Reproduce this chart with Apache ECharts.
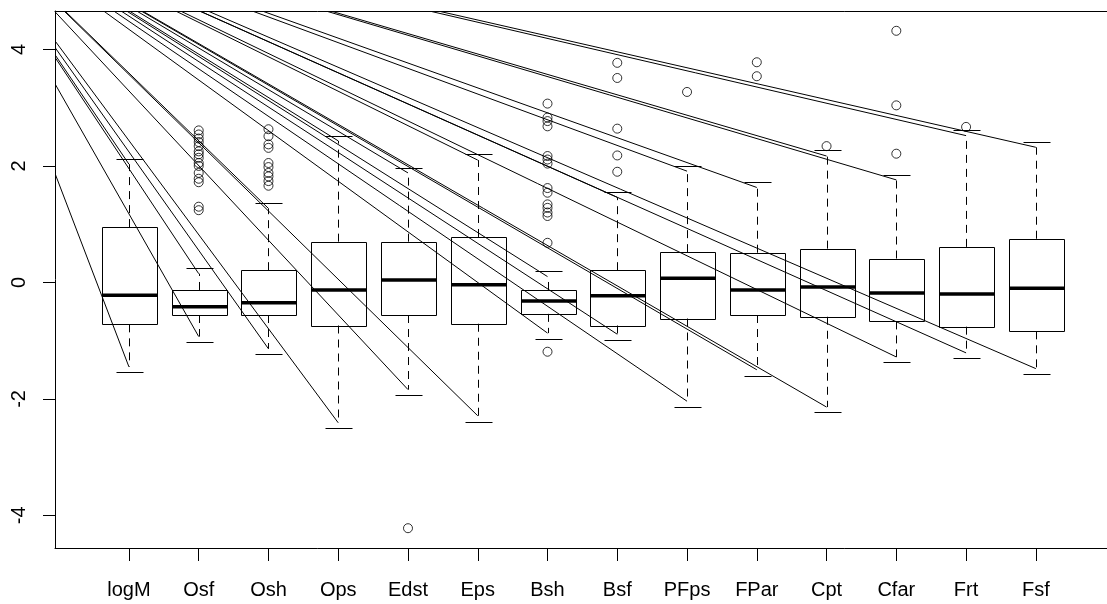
<!DOCTYPE html>
<html>
<head>
<meta charset="utf-8">
<script src="https://cdn.jsdelivr.net/npm/echarts@6/dist/echarts.min.js"></script>
<style>html,body{margin:0;padding:0;background:#fff}#c{width:1107px;height:604px}</style>
</head>
<body>
<div id="c"></div>
<script>
const categories = ['logM','Osf','Osh','Ops','Edst','Eps','Bsh','Bsf','PFps','FPar','Cpt','Cfar','Frt','Fsf'];
const whiskerLow  = [-1.54,-1.03,-1.23,-2.50,-1.94,-2.39,-0.97,-0.99,-2.14,-1.60,-2.23,-1.37,-1.30,-1.58];
const q1          = [-0.72,-0.56,-0.56,-0.74,-0.56,-0.71,-0.54,-0.74,-0.62,-0.56,-0.59,-0.67,-0.76,-0.84];
const median      = [-0.22,-0.42,-0.35,-0.13, 0.04,-0.04,-0.32,-0.23, 0.07,-0.13,-0.08,-0.18,-0.20,-0.10];
const q3          = [ 0.95,-0.13, 0.21, 0.70, 0.70, 0.78,-0.13, 0.21, 0.52, 0.51, 0.58, 0.41, 0.61, 0.75];
const whiskerHigh = [ 2.12, 0.24, 1.37, 2.51, 1.97, 2.20, 0.19, 1.56, 2.00, 1.73, 2.27, 1.85, 2.61, 2.41];
const lineEndLow  = [-1.45,-0.93,-1.14,-2.41,-1.84,-2.29,-0.87,-0.89,-2.04,-1.50,-2.14,-1.28,-1.21,-1.48];
const lineEndHigh = [ 2.03, 0.15, 1.27, 2.43, 1.88, 2.10, 0.10, 1.46, 1.91, 1.63, 2.17, 1.76, 2.52, 2.32];
const outliers = [
  [],
  [2.61,2.54,2.47,2.41,2.34,2.25,2.20,2.14,2.05,2.00,1.88,1.78,1.72,1.30,1.24],
  [2.63,2.51,2.37,2.31,2.05,1.98,1.88,1.82,1.74,1.66],
  [],
  [-4.22],
  [],
  [3.07,2.83,2.77,2.68,2.17,2.11,2.04,1.62,1.54,1.34,1.28,1.20,1.14,0.68,-1.19],
  [3.77,3.51,2.64,2.18,1.90],
  [3.27],
  [3.78,3.54],
  [2.34],
  [4.32,3.04,2.21],
  [2.67],
  []
];
const lineOrigin = [-1.56, 6.57];
const yTicks = [-4, -2, 0, 2, 4];
const xTicks = categories.map((c, i) => i + 1);

const FONT = "'Liberation Sans', Arial, sans-serif";
const chart = echarts.init(document.getElementById('c'));

const boxData = categories.map((c, i) => [i + 1, whiskerLow[i], q1[i], median[i], q3[i], whiskerHigh[i], lineEndLow[i], lineEndHigh[i]]);
const lineData = [];
categories.forEach((c, i) => { lineData.push([i + 1, lineEndLow[i]]); lineData.push([i + 1, lineEndHigh[i]]); });
const outlierData = [];
outliers.forEach((arr, i) => arr.forEach(v => outlierData.push([i + 1, v])));

const crisp = v => Math.round(v) + 0.5;

function renderBox(params, api) {
  const x = api.value(0);
  const lo = api.value(1), a = api.value(2), m = api.value(3), b = api.value(4), hi = api.value(5), el = api.value(6), eh = api.value(7);
  const px = crisp(api.coord([x, 0])[0]);
  const hw = api.size([0.4, 0])[0];
  const sw = api.size([0.2, 0])[0];
  const Y = v => api.coord([x, v])[1];
  const stroke = { stroke: '#000', lineWidth: 1, fill: null };
  const dash = { stroke: '#000', lineWidth: 1, lineDash: [8, 6] };
  const l = crisp(px - hw), r = crisp(px + hw);
  return {
    type: 'group',
    children: [
      { type: 'line', shape: { x1: px, y1: Y(b), x2: px, y2: Y(eh) }, style: dash },
      { type: 'line', shape: { x1: px, y1: Y(a), x2: px, y2: Y(el) }, style: dash },
      { type: 'line', shape: { x1: crisp(px - sw), y1: crisp(Y(hi)), x2: crisp(px + sw), y2: crisp(Y(hi)) }, style: stroke },
      { type: 'line', shape: { x1: crisp(px - sw), y1: crisp(Y(lo)), x2: crisp(px + sw), y2: crisp(Y(lo)) }, style: stroke },
      { type: 'rect', shape: { x: l, y: crisp(Y(b)), width: r - l, height: crisp(Y(a)) - crisp(Y(b)) }, style: stroke },
      { type: 'line', shape: { x1: l, y1: Y(m), x2: r, y2: Y(m) }, style: { stroke: '#000', lineWidth: 3.5 } }
    ]
  };
}

function renderLine(params, api) {
  const p0 = api.coord(lineOrigin);
  const p1 = api.coord([api.value(0), api.value(1)]);
  return { type: 'line', shape: { x1: p0[0], y1: p0[1], x2: p1[0], y2: p1[1] }, style: { stroke: '#000', lineWidth: 1 } };
}

const axisLineStyle = { show: true, onZero: false, lineStyle: { color: '#000', width: 1 } };

chart.setOption({
  animation: false,
  backgroundColor: '#fff',
  grid: { left: 55, right: 0, top: 11, bottom: 56, show: false },
  xAxis: [{
    type: 'value', min: -0.06, max: 15.02, position: 'bottom',
    axisLine: axisLineStyle, splitLine: { show: false },
    axisTick: { show: true, customValues: xTicks, length: 13, lineStyle: { color: '#000', width: 1 } },
    axisLabel: { customValues: xTicks, formatter: v => categories[Math.round(v) - 1] || '', fontSize: 20, color: '#000', fontFamily: FONT, margin: 32 }
  }, {
    type: 'value', min: -0.06, max: 15.02, position: 'top',
    axisLine: axisLineStyle, splitLine: { show: false }, axisTick: { show: false }, axisLabel: { show: false }
  }],
  yAxis: {
    type: 'value', min: -4.56, max: 4.66,
    axisLine: axisLineStyle, splitLine: { show: false },
    axisTick: { show: true, customValues: yTicks, length: 12, lineStyle: { color: '#000', width: 1 } },
    axisLabel: { customValues: yTicks, rotate: 90, fontSize: 20, color: '#000', fontFamily: FONT, margin: 26 }
  },
  series: [
    { type: 'custom', renderItem: renderBox, data: boxData, clip: true, z: 2, silent: true },
    { type: 'scatter', data: outlierData, symbol: 'circle', symbolSize: 9, itemStyle: { color: 'rgba(0,0,0,0)', borderColor: '#000', borderWidth: 1 }, z: 3, silent: true },
    { type: 'custom', renderItem: renderLine, data: lineData, clip: true, z: 4, silent: true }
  ]
});
</script>
</body>
</html>
